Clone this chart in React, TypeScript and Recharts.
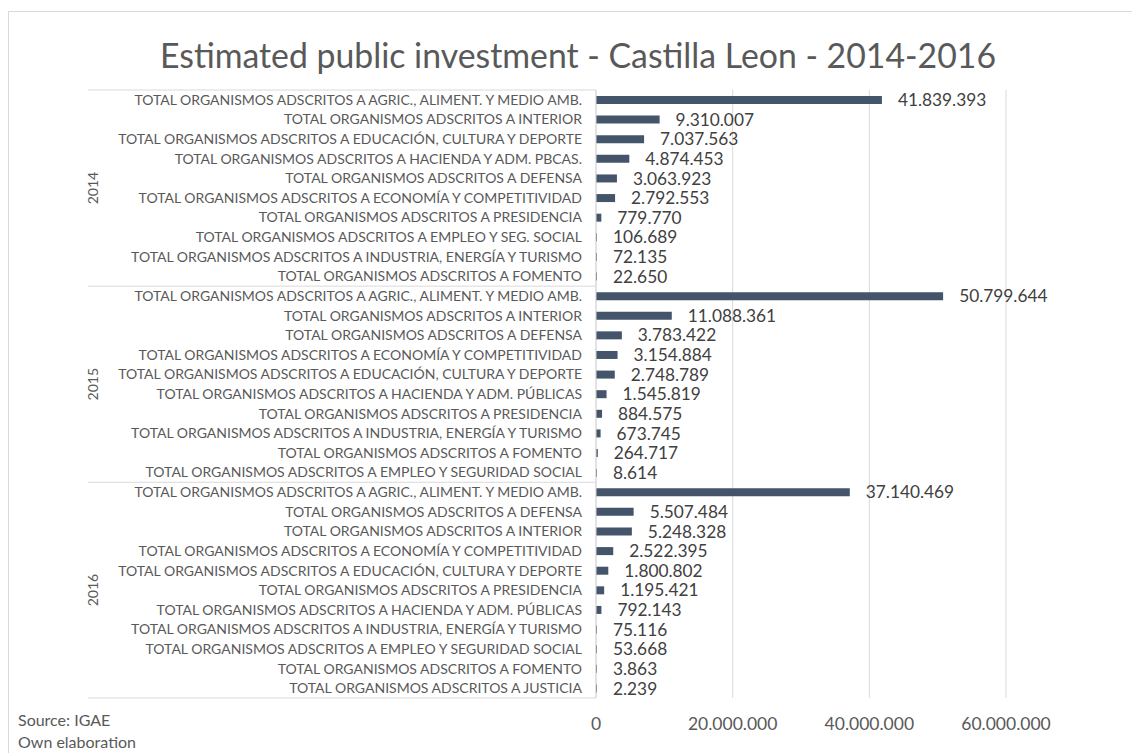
import React from 'react';
import { BarChart, Bar, XAxis, YAxis, CartesianGrid, LabelList } from 'recharts';

const years = ['2014', '2015', '2016'];

const categories2014 = [
  'TOTAL ORGANISMOS ADSCRITOS A AGRIC., ALIMENT. Y MEDIO AMB.',
  'TOTAL ORGANISMOS ADSCRITOS A INTERIOR',
  'TOTAL ORGANISMOS ADSCRITOS A EDUCACIÓN, CULTURA Y DEPORTE',
  'TOTAL ORGANISMOS ADSCRITOS A HACIENDA Y ADM. PBCAS.',
  'TOTAL ORGANISMOS ADSCRITOS A DEFENSA',
  'TOTAL ORGANISMOS ADSCRITOS A ECONOMÍA Y COMPETITIVIDAD',
  'TOTAL ORGANISMOS ADSCRITOS A PRESIDENCIA',
  'TOTAL ORGANISMOS ADSCRITOS A EMPLEO Y SEG. SOCIAL',
  'TOTAL ORGANISMOS ADSCRITOS A INDUSTRIA, ENERGÍA Y TURISMO',
  'TOTAL ORGANISMOS ADSCRITOS A FOMENTO',
];
const values2014 = [41839393, 9310007, 7037563, 4874453, 3063923, 2792553, 779770, 106689, 72135, 22650];

const categories2015 = [
  'TOTAL ORGANISMOS ADSCRITOS A AGRIC., ALIMENT. Y MEDIO AMB.',
  'TOTAL ORGANISMOS ADSCRITOS A INTERIOR',
  'TOTAL ORGANISMOS ADSCRITOS A DEFENSA',
  'TOTAL ORGANISMOS ADSCRITOS A ECONOMÍA Y COMPETITIVIDAD',
  'TOTAL ORGANISMOS ADSCRITOS A EDUCACIÓN, CULTURA Y DEPORTE',
  'TOTAL ORGANISMOS ADSCRITOS A HACIENDA Y ADM. PÚBLICAS',
  'TOTAL ORGANISMOS ADSCRITOS A PRESIDENCIA',
  'TOTAL ORGANISMOS ADSCRITOS A INDUSTRIA, ENERGÍA Y TURISMO',
  'TOTAL ORGANISMOS ADSCRITOS A FOMENTO',
  'TOTAL ORGANISMOS ADSCRITOS A EMPLEO Y SEGURIDAD SOCIAL',
];
const values2015 = [50799644, 11088361, 3783422, 3154884, 2748789, 1545819, 884575, 673745, 264717, 8614];

const categories2016 = [
  'TOTAL ORGANISMOS ADSCRITOS A AGRIC., ALIMENT. Y MEDIO AMB.',
  'TOTAL ORGANISMOS ADSCRITOS A DEFENSA',
  'TOTAL ORGANISMOS ADSCRITOS A INTERIOR',
  'TOTAL ORGANISMOS ADSCRITOS A ECONOMÍA Y COMPETITIVIDAD',
  'TOTAL ORGANISMOS ADSCRITOS A EDUCACIÓN, CULTURA Y DEPORTE',
  'TOTAL ORGANISMOS ADSCRITOS A PRESIDENCIA',
  'TOTAL ORGANISMOS ADSCRITOS A HACIENDA Y ADM. PÚBLICAS',
  'TOTAL ORGANISMOS ADSCRITOS A INDUSTRIA, ENERGÍA Y TURISMO',
  'TOTAL ORGANISMOS ADSCRITOS A EMPLEO Y SEGURIDAD SOCIAL',
  'TOTAL ORGANISMOS ADSCRITOS A FOMENTO',
  'TOTAL ORGANISMOS ADSCRITOS A JUSTICIA',
];
const values2016 = [37140469, 5507484, 5248328, 2522395, 1800802, 1195421, 792143, 75116, 53668, 3863, 2239];

const xTicks = [0, 20000000, 40000000, 60000000];

type Row = {
  id: string;
  year: string;
  label: string;
  value: number;
  first: boolean;
  groupSize: number;
};

const groups = [
  { year: years[0], cats: categories2014, vals: values2014 },
  { year: years[1], cats: categories2015, vals: values2015 },
  { year: years[2], cats: categories2016, vals: values2016 },
];

const rows: Row[] = groups.flatMap((g) =>
  g.cats.map((label, i) => ({
    id: `${g.year}-${i}`,
    year: g.year,
    label,
    value: g.vals[i],
    first: i === 0,
    groupSize: g.cats.length,
  }))
);

const W = 1132;
const H = 753;
const TOP = 90;
const LEFT = 88;
const AXIS_W = 508;
const X_AXIS_H = 55;
const RIGHT = 126;
const TICK_GAP = 14;
const BAND = (H - TOP - X_AXIS_H) / rows.length;

const FONT = 'Lato, "Open Sans", sans-serif';
const GREY = '#595959';
const LINE = '#d9d9d9';

const fmt = (v: number) => String(v).replace(/\B(?=(\d{3})+(?!\d))/g, '.');

const CategoryTick = (props: any) => {
  const { x, y, payload } = props;
  const row = rows.find((r) => r.id === payload.value);
  if (!row) return null;
  const axisX = x + TICK_GAP;
  const left = axisX - AXIS_W;
  const isLast = row.id === rows[rows.length - 1].id;
  return (
    <g>
      <text x={x} y={y} dy={5} textAnchor="end" fontSize={14} fill={GREY} fontFamily={FONT}>
        {row.label}
      </text>
      {row.first && (
        <line x1={left} x2={axisX} y1={y - BAND / 2} y2={y - BAND / 2} stroke={LINE} />
      )}
      {row.first && (
        <text
          transform={`translate(${left + 10}, ${y - BAND / 2 + (row.groupSize * BAND) / 2}) rotate(-90)`}
          textAnchor="middle"
          fontSize={14}
          fill={GREY}
          fontFamily={FONT}
        >
          {row.year}
        </text>
      )}
      {isLast && <line x1={left} x2={axisX} y1={y + BAND / 2} y2={y + BAND / 2} stroke={LINE} />}
    </g>
  );
};

export default function App() {
  return (
    <div
      style={{
        position: 'absolute',
        left: 0,
        top: 0,
        width: W,
        height: H,
        background: '#fff',
        overflow: 'hidden',
        fontFamily: FONT,
      }}
    >
      <div
        style={{
          position: 'absolute',
          left: 8,
          top: 11,
          width: W + 20,
          height: H + 20,
          border: `1px solid ${LINE}`,
        }}
      />
      <div
        style={{
          position: 'absolute',
          left: 24,
          top: 35,
          width: W - 24,
          textAlign: 'center',
          fontSize: 33.8,
          color: GREY,
          lineHeight: '40px',
          whiteSpace: 'nowrap',
        }}
      >
        Estimated public investment - Castilla Leon - 2014-2016
      </div>
      <div style={{ position: 'absolute', left: 18, top: 709, fontSize: 16, color: GREY, lineHeight: '22px' }}>
        Source: IGAE
        <br />
        Own elaboration
      </div>
      <div style={{ position: 'absolute', left: 0, top: 0 }}>
        <BarChart
          width={W}
          height={H}
          data={rows}
          layout="vertical"
          margin={{ top: TOP, right: RIGHT, left: LEFT, bottom: 0 }}
        >
          <CartesianGrid horizontal={false} stroke={LINE} />
          <XAxis
            type="number"
            domain={[0, 60000000]}
            ticks={xTicks}
            height={X_AXIS_H}
            axisLine={false}
            tickLine={false}
            tickMargin={14}
            tickFormatter={fmt}
            tick={{ fill: GREY, fontSize: 17.5, fontFamily: FONT }}
          />
          <YAxis
            type="category"
            dataKey="id"
            width={AXIS_W}
            interval={0}
            axisLine={{ stroke: LINE }}
            tickLine={false}
            tickSize={0}
            tickMargin={TICK_GAP}
            tick={<CategoryTick />}
          />
          <Bar dataKey="value" fill="#44546A" barSize={8} minPointSize={1} isAnimationActive={false}>
            <LabelList
              dataKey="value"
              position="right"
              offset={16}
              formatter={(v: any) => fmt(Number(v))}
              fill="#404040"
              fontSize={17.3}
              fontFamily={FONT}
            />
          </Bar>
        </BarChart>
      </div>
    </div>
  );
}
